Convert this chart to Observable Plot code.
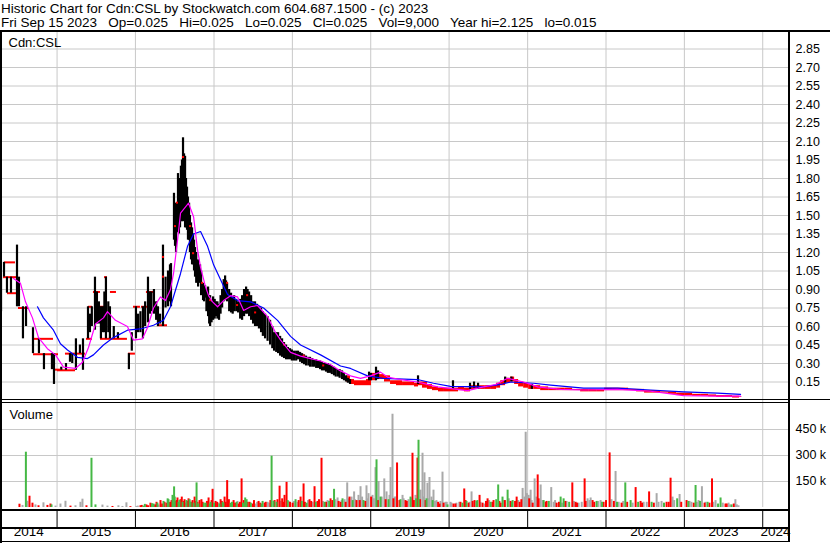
<!DOCTYPE html>
<html><head><meta charset="utf-8">
<script src="https://cdn.jsdelivr.net/npm/d3@7"></script>
<script src="https://cdn.jsdelivr.net/npm/@observablehq/plot@0.6"></script>
<style>
body{margin:0;background:#fff;}
#wrap{position:relative;width:830px;height:543px;overflow:hidden;background:#fff;font-family:Arial,"Liberation Sans",sans-serif;color:#000;}
.hd{position:absolute;left:1px;font-size:13.5px;line-height:15px;white-space:pre;}
.ln{position:absolute;background:#000;}
svg{position:absolute;left:0;}
</style></head><body><div id="wrap">
<div class="hd" style="top:0.5px">Historic Chart for Cdn:CSL by Stockwatch.com 604.687.1500 - (c) 2023</div>
<div class="hd" style="top:14.5px">Fri Sep 15 2023   Op=0.025   Hi=0.025   Lo=0.025   Cl=0.025   Vol=9,000   Year hi=2.125   lo=0.015</div>
</div>
<script>
// ---------- data (dates as decimal years) ----------
const years = [2014,2015,2016,2017,2018,2019,2020,2021,2022,2023,2024];
const priceTicks = [0.15,0.30,0.45,0.60,0.75,0.90,1.05,1.20,1.35,1.50,1.65,1.80,1.95,2.10,2.25,2.40,2.55,2.70,2.85];
const volTicks = [150000,300000,450000];

// hi-lo bars [date, low, high]
const priceBars = [
[2014.291,0.72,1.00],[2014.329,1.00,1.12],[2014.367,0.87,1.00],[2014.418,0.87,1.00],[2014.495,0.76,1.26],
[2014.520,0.76,1.00],[2014.571,0.50,0.76],[2014.610,0.60,0.76],[2014.699,0.38,0.59],[2014.775,0.38,0.50],
[2014.839,0.25,0.38],[2014.941,0.25,0.38],[2014.967,0.13,0.38],
[2015.060,0.245,0.27],[2015.120,0.245,0.30],[2015.171,0.31,0.38],[2015.200,0.30,0.38],[2015.247,0.245,0.50],
[2015.298,0.38,0.45],[2015.337,0.245,0.50],[2015.401,0.50,0.76],[2015.426,0.55,0.70],[2015.450,0.60,0.76],
[2015.490,0.57,1.00],[2015.515,0.62,0.88],[2015.540,0.62,0.80],[2015.566,0.50,0.76],[2015.592,0.55,0.76],
[2015.610,0.55,0.88],[2015.630,0.50,1.00],[2015.660,0.55,0.80],[2015.681,0.50,0.76],[2015.730,0.50,0.60],
[2015.783,0.50,0.55],[2015.923,0.25,0.38],[2015.960,0.40,0.55],
[2016.013,0.50,0.76],[2016.040,0.55,0.70],[2016.070,0.55,0.72],[2016.102,0.50,0.76],[2016.130,0.60,0.80],
[2016.166,0.63,1.00],[2016.191,0.70,0.88],[2016.210,0.72,0.88],[2016.242,0.70,0.90],[2016.270,0.65,0.80],
[2016.293,0.60,0.76],[2016.320,0.62,0.70],[2016.357,0.60,1.26],[2016.390,0.75,1.00],[2016.421,0.76,1.05],
[2016.446,0.80,1.10],[2016.459,0.76,1.11],[2016.497,1.30,1.68],[2016.510,1.25,1.55],[2016.523,1.20,1.60],
[2016.548,1.36,1.84],[2016.560,1.35,1.70],[2016.574,1.40,1.80],[2016.585,1.45,1.90],[2016.599,1.45,1.95],
[2016.612,1.45,2.13],[2016.625,1.50,2.00],[2016.638,1.40,1.98],[2016.650,1.40,1.80],[2016.663,1.38,1.73],
[2016.675,1.30,1.65],[2016.689,1.30,1.60],[2016.700,1.20,1.50],[2016.714,1.14,1.44],[2016.727,1.10,1.40],
[2016.740,1.10,1.35],[2016.752,1.05,1.30],[2016.765,1.00,1.24],[2016.780,0.95,1.20],[2016.804,0.92,1.14],
[2016.829,0.95,1.10],[2016.842,0.85,1.05],[2016.867,0.81,0.95],[2016.880,0.80,0.92],[2016.893,0.83,0.93],
[2016.910,0.72,0.90],[2016.931,0.68,0.92],[2016.945,0.62,0.85],[2016.957,0.60,0.85],[2016.975,0.63,0.80],
[2016.995,0.65,0.84],[2017.015,0.66,0.82],[2017.033,0.68,0.80],[2017.050,0.66,0.80],[2017.071,0.65,0.78],
[2017.090,0.70,0.85],[2017.110,0.75,0.90],[2017.130,0.80,0.98],[2017.148,0.81,1.01],[2017.160,0.82,0.97],
[2017.173,0.80,0.95],[2017.200,0.72,0.90],[2017.224,0.71,0.87],[2017.245,0.70,0.84],[2017.263,0.72,0.85],
[2017.290,0.72,0.82],[2017.314,0.71,0.80],[2017.340,0.66,0.82],[2017.365,0.65,0.85],[2017.390,0.68,0.90],
[2017.416,0.70,0.92],[2017.435,0.70,0.90],[2017.454,0.68,0.88],[2017.480,0.65,0.85],[2017.505,0.62,0.80],
[2017.530,0.60,0.80],[2017.556,0.60,0.78],[2017.580,0.58,0.76],[2017.607,0.55,0.75],[2017.630,0.52,0.72],
[2017.658,0.50,0.70],[2017.690,0.48,0.68],[2017.722,0.45,0.65],[2017.750,0.42,0.60],[2017.773,0.40,0.55],
[2017.800,0.39,0.55],[2017.824,0.38,0.55],[2017.850,0.36,0.52],[2017.875,0.35,0.50],[2017.900,0.34,0.47],
[2017.926,0.33,0.45],[2017.950,0.33,0.43],[2017.977,0.33,0.42],[2018.000,0.32,0.41],[2018.028,0.32,0.40],
[2018.055,0.32,0.40],[2018.079,0.33,0.40],[2018.105,0.31,0.39],[2018.130,0.30,0.38],[2018.155,0.29,0.37],
[2018.181,0.28,0.36],[2018.210,0.28,0.35],[2018.232,0.27,0.35],[2018.260,0.27,0.34],[2018.283,0.27,0.33],
[2018.310,0.26,0.33],[2018.334,0.26,0.32],[2018.360,0.25,0.32],[2018.385,0.24,0.31],[2018.410,0.24,0.30],
[2018.436,0.23,0.30],[2018.460,0.22,0.30],[2018.487,0.22,0.29],[2018.510,0.21,0.28],[2018.538,0.20,0.27],
[2018.560,0.19,0.26],[2018.589,0.19,0.25],[2018.610,0.18,0.25],[2018.640,0.17,0.24],[2018.665,0.16,0.22],
[2018.691,0.15,0.20],[2018.715,0.14,0.18],[2018.742,0.13,0.17],
[2018.985,0.16,0.23],[2019.010,0.16,0.22],[2019.074,0.16,0.27],[2019.100,0.17,0.24],[2019.610,0.13,0.20],
[2020.056,0.09,0.16],[2020.273,0.09,0.14],[2020.324,0.10,0.15],[2020.375,0.09,0.14],[2020.720,0.14,0.19],
[2020.800,0.15,0.19],[2021.060,0.09,0.13]
];
// low-activity stretch, mostly unchanged days (red) [date, low, high]
const flatBars = [
[2018.691,0.15,0.20],[2018.742,0.13,0.17],[2018.793,0.12,0.16],[2018.844,0.12,0.16],[2018.895,0.12,0.16],
[2018.946,0.12,0.17],[2019.010,0.16,0.22],[2019.074,0.17,0.21],[2019.125,0.17,0.21],[2019.176,0.15,0.20],
[2019.253,0.13,0.16],[2019.329,0.12,0.16],[2019.406,0.12,0.15],[2019.482,0.12,0.15],[2019.559,0.11,0.14],
[2019.610,0.12,0.15],[2019.661,0.10,0.15],[2019.724,0.09,0.13],[2019.788,0.08,0.11],[2019.865,0.07,0.10],
[2019.941,0.07,0.10],[2020.018,0.07,0.10],[2020.120,0.08,0.11],[2020.196,0.07,0.10],[2020.273,0.09,0.12],
[2020.375,0.09,0.12],[2020.452,0.09,0.12],[2020.528,0.09,0.12],[2020.605,0.10,0.14],[2020.656,0.12,0.16],
[2020.719,0.14,0.18],[2020.783,0.15,0.19],[2020.834,0.13,0.17],[2020.885,0.11,0.15],[2020.949,0.10,0.14],
[2021.013,0.09,0.13],[2021.077,0.09,0.12],[2021.166,0.08,0.11],[2021.268,0.08,0.10],[2021.370,0.08,0.10],
[2021.472,0.08,0.10],[2021.574,0.08,0.09],[2021.676,0.07,0.09],[2021.778,0.07,0.09],[2021.880,0.07,0.09],
[2021.982,0.08,0.10],[2022.084,0.08,0.10],[2022.186,0.08,0.10],[2022.288,0.08,0.09],[2022.390,0.07,0.09],
[2022.492,0.06,0.08],[2022.594,0.06,0.08],[2022.696,0.06,0.07],[2022.798,0.05,0.07],[2022.901,0.04,0.06],
[2023.003,0.04,0.06],[2023.105,0.035,0.05],[2023.207,0.035,0.05],[2023.309,0.03,0.045],[2023.411,0.025,0.04],
[2023.513,0.025,0.04],[2023.615,0.02,0.035],[2023.704,0.025,0.03]
];
// unchanged-price runs [from, to, price]
const flatRuns = [
[2014.316,2014.495,1.00],[2014.329,2014.469,1.12],[2014.367,2014.533,0.87],[2014.508,2014.635,0.75],
[2014.686,2014.954,0.50],[2014.699,2015.018,0.375],[2014.980,2015.043,0.25],
[2015.005,2015.235,0.245],[2015.107,2015.362,0.38],[2015.375,2015.452,0.50],[2015.401,2015.452,0.76],
[2015.464,2015.554,0.88],[2015.515,2015.605,0.76],[2015.554,2015.898,0.50],[2015.605,2015.643,1.00],
[2015.681,2015.758,0.88],[2015.911,2016.000,0.38],[2015.975,2016.064,0.76],[2016.077,2016.153,0.76],
[2016.140,2016.230,0.88],[2016.281,2016.408,0.61]
];
// red close ticks inside the busy stretch [date, price]
const redTicks = [
[2016.357,1.16],[2016.357,1.00],[2016.510,1.41],[2016.535,1.60],[2016.612,1.97],[2016.702,1.41],
[2016.740,1.19],[2016.855,0.95],[2016.957,0.81],[2017.173,0.95],[2017.301,0.77],[2017.429,0.85],
[2017.531,0.71],[2017.900,0.45],[2018.150,0.36],[2018.400,0.28]
];
// moving averages [date, value]
const maFast = [
[2014.444,0.99],[2014.533,0.95],[2014.597,0.80],[2014.686,0.67],[2014.763,0.51],[2014.877,0.42],[2014.980,0.37],
[2015.082,0.27],[2015.235,0.26],[2015.324,0.31],[2015.401,0.43],[2015.490,0.62],[2015.592,0.67],[2015.643,0.72],
[2015.745,0.65],[2015.898,0.60],[2015.975,0.49],[2016.089,0.50],[2016.153,0.59],[2016.230,0.75],[2016.319,0.84],
[2016.383,0.81],[2016.446,0.90],[2016.485,1.03],[2016.536,1.30],[2016.574,1.52],[2016.638,1.57],[2016.676,1.60],
[2016.740,1.49],[2016.791,1.22],[2016.829,1.08],[2016.893,0.92],[2016.931,0.85],[2016.982,0.80],[2017.046,0.76],
[2017.122,0.81],[2017.212,0.85],[2017.301,0.84],[2017.378,0.73],[2017.467,0.76],[2017.556,0.77],[2017.684,0.68],
[2017.786,0.55],[2017.850,0.49],[2017.977,0.39],[2018.105,0.36],[2018.232,0.34],[2018.360,0.32],[2018.487,0.29],
[2018.615,0.24],[2018.742,0.20],[2018.870,0.18],[2018.997,0.20],[2019.125,0.23],[2019.214,0.19],[2019.380,0.17],
[2019.597,0.15],[2019.852,0.11],[2020.235,0.08],[2020.439,0.11],[2020.592,0.13],[2020.745,0.18],[2020.949,0.15],
[2021.128,0.11],[2021.421,0.09],[2021.714,0.085],[2022.148,0.09],[2022.569,0.075],[2022.990,0.04],[2023.424,0.035],
[2023.717,0.035]
];
const maSlow = [
[2014.750,0.76],[2014.826,0.67],[2014.954,0.57],[2015.043,0.46],[2015.133,0.41],[2015.260,0.35],[2015.388,0.34],
[2015.464,0.37],[2015.592,0.45],[2015.719,0.51],[2015.898,0.57],[2016.064,0.58],[2016.230,0.61],[2016.357,0.65],
[2016.446,0.76],[2016.574,1.03],[2016.663,1.25],[2016.740,1.35],[2016.829,1.37],[2016.918,1.25],[2016.995,1.10],
[2017.084,0.98],[2017.173,0.86],[2017.301,0.81],[2017.467,0.80],[2017.633,0.75],[2017.811,0.65],[2017.977,0.52],
[2018.105,0.45],[2018.360,0.37],[2018.615,0.28],[2018.742,0.26],[2018.959,0.20],[2019.163,0.18],[2019.597,0.17],
[2019.801,0.14],[2020.018,0.115],[2020.439,0.11],[2020.656,0.13],[2020.783,0.15],[2021.077,0.14],[2021.293,0.125],
[2021.714,0.10],[2022.148,0.10],[2022.569,0.085],[2022.990,0.07],[2023.424,0.06],[2023.717,0.05]
];
// volume [date, thousands of shares, u=up d=down n=unchanged]
const volBars = [
[2014.602,319,"u"],[2015.439,284,"u"],[2016.492,119,"u"],[2016.753,60,"d"],[2016.778,142,"u"],[2016.982,105,"d"],
[2017.168,155,"d"],[2017.352,165,"d"],[2017.398,55,"u"],[2017.735,296,"u"],[2017.837,123,"d"],[2017.870,50,"d"],
[2017.926,145,"d"],[2018.041,45,"u"],[2018.143,136,"d"],[2018.283,120,"d"],[2018.372,284,"d"],[2018.532,105,"u"],
[2018.700,142,"n"],[2018.729,60,"d"],[2018.788,90,"n"],[2018.870,120,"n"],[2018.946,125,"n"],[2019.005,60,"d"],
[2019.061,230,"n"],[2019.074,275,"u"],[2019.100,150,"n"],[2019.173,165,"n"],[2019.253,230,"n"],[2019.278,538,"n"],
[2019.336,257,"d"],[2019.406,70,"n"],[2019.444,40,"d"],[2019.533,313,"d"],[2019.597,285,"d"],[2019.610,388,"u"],
[2019.661,313,"n"],[2019.686,200,"n"],[2019.724,140,"n"],[2019.750,173,"n"],[2019.801,100,"n"],[2019.916,204,"n"],
[2020.018,30,"n"],[2020.193,107,"d"],[2020.286,90,"n"],[2020.388,70,"d"],[2020.490,50,"d"],[2020.625,130,"u"],
[2020.745,100,"u"],[2020.860,60,"d"],[2020.936,110,"n"],[2020.975,434,"n"],[2021.038,100,"n"],[2021.089,165,"n"],
[2021.128,188,"d"],[2021.166,130,"n"],[2021.301,115,"n"],[2021.421,60,"u"],[2021.570,142,"d"],[2021.727,165,"d"],
[2021.765,50,"n"],[2021.804,55,"n"],[2022.046,315,"d"],[2022.122,208,"n"],[2022.246,142,"u"],[2022.378,115,"d"],
[2022.550,90,"d"],[2022.646,80,"n"],[2022.824,169,"d"],[2022.908,50,"u"],[2022.939,75,"n"],[2023.143,127,"u"],
[2023.224,120,"n"],[2023.353,165,"d"],[2023.462,55,"u"],[2023.651,45,"n"],
[2014.520,19,"d"],[2014.559,12,"n"],[2014.622,36,"n"],[2014.648,65,"d"],[2014.686,25,"d"],[2014.724,15,"n"],
[2014.763,10,"d"],[2014.826,27,"n"],[2014.877,12,"d"],[2014.916,20,"d"],[2014.929,15,"u"],[2014.980,8,"n"],
[2015.043,20,"n"],[2015.107,36,"n"],[2015.171,8,"d"],[2015.235,10,"n"],[2015.298,30,"n"],[2015.324,48,"n"],
[2015.375,10,"d"],[2015.490,15,"u"],[2015.579,14,"n"],[2015.643,8,"n"],[2015.707,6,"d"],[2015.783,10,"n"],
[2015.834,6,"n"],[2015.885,27,"n"],[2015.936,5,"d"],[2016.013,6,"n"],[2016.064,10,"d"],[2016.102,8,"u"],
[2016.140,15,"d"],[2016.191,25,"d"],[2016.230,20,"u"],[2016.268,30,"d"],[2016.293,15,"n"],[2016.319,40,"d"],
[2016.357,35,"u"],[2016.395,25,"d"],[2016.421,45,"u"],[2016.446,30,"d"],[2016.472,70,"u"],[2016.523,40,"d"],
[2016.548,30,"u"],[2016.574,45,"d"],[2016.612,35,"d"],[2016.650,40,"u"],[2016.676,50,"d"],[2016.702,30,"u"],
[2016.727,40,"d"],[2016.816,40,"d"],[2016.855,30,"d"],[2016.893,25,"u"],[2016.931,55,"d"],[2016.957,30,"u"],
[2017.020,35,"d"],[2017.059,25,"n"],[2017.084,45,"d"],[2017.110,30,"u"],[2017.135,60,"d"],[2017.212,25,"u"],
[2017.250,40,"d"],[2017.288,30,"u"],[2017.314,20,"d"],[2017.416,45,"u"],[2017.454,30,"d"],[2017.492,20,"d"],
[2017.531,20,"n"],[2017.569,35,"d"],[2017.607,20,"u"],[2017.645,25,"d"],[2017.684,30,"n"],[2017.773,40,"d"],
[2017.798,30,"u"],[2017.900,70,"d"],[2017.952,35,"n"],[2018.003,25,"d"],[2018.066,30,"n"],[2018.105,60,"d"],
[2018.181,25,"u"],[2018.219,45,"d"],[2018.258,30,"n"],[2018.321,35,"d"],[2018.411,30,"u"],[2018.449,40,"n"],
[2018.487,50,"d"],[2018.577,55,"n"],[2018.615,30,"d"],[2018.640,50,"u"],[2018.666,45,"n"],[2018.755,60,"n"],
[2018.819,40,"d"],[2018.844,70,"n"],[2018.908,40,"u"],[2018.972,80,"n"],[2019.023,70,"n"],[2019.125,60,"u"],
[2019.202,90,"n"],[2019.227,45,"u"],[2019.304,60,"n"],[2019.367,40,"d"],[2019.482,45,"n"],[2019.508,60,"u"],
[2019.571,70,"n"],[2019.635,100,"n"],[2019.712,50,"u"],[2019.775,60,"n"],[2019.839,40,"n"],[2019.878,20,"d"],
[2019.954,30,"n"],[2019.980,15,"u"],[2020.056,20,"d"],[2020.094,25,"n"],[2020.145,30,"d"],[2020.222,35,"u"],
[2020.247,25,"d"],[2020.324,40,"d"],[2020.349,35,"u"],[2020.426,25,"d"],[2020.452,20,"n"],[2020.528,30,"u"],
[2020.566,40,"d"],[2020.656,25,"d"],[2020.694,40,"n"],[2020.783,35,"d"],[2020.809,40,"u"],[2020.898,30,"d"],
[2021.013,70,"n"],[2021.064,25,"d"],[2021.204,40,"u"],[2021.242,35,"d"],[2021.332,30,"n"],[2021.370,25,"d"],
[2021.459,50,"u"],[2021.497,35,"n"],[2021.612,30,"d"],[2021.650,25,"n"],[2021.829,40,"d"],[2021.880,35,"u"],
[2021.931,40,"n"],[2021.969,30,"d"],[2022.161,30,"n"],[2022.199,25,"d"],[2022.314,40,"u"],[2022.441,35,"d"],
[2022.480,30,"n"],[2022.582,30,"u"],[2022.709,35,"n"],[2022.773,30,"d"],[2022.849,60,"n"],[2023.028,40,"d"],
[2023.066,35,"n"],[2023.181,40,"n"],[2023.258,25,"d"],[2023.296,30,"u"],[2023.398,40,"n"],[2023.525,20,"d"],
[2023.564,25,"n"],[2023.602,15,"u"],[2023.691,10,"n"],
[2016.030,8,"n"],[2016.080,12,"d"],[2016.120,18,"u"],[2016.160,10,"d"],[2016.210,22,"u"],[2016.250,15,"d"],
[2016.280,25,"u"],[2016.340,20,"d"],[2016.370,30,"d"],[2016.410,50,"u"],[2016.430,28,"d"],[2016.460,40,"d"],
[2016.500,60,"u"],[2016.510,35,"d"],[2016.535,55,"d"],[2016.560,40,"u"],[2016.590,60,"d"],[2016.600,30,"u"],
[2016.625,45,"d"],[2016.640,25,"n"],[2016.660,35,"d"],[2016.690,45,"u"],[2016.710,30,"d"],[2016.740,25,"u"],
[2016.765,35,"d"],[2016.790,30,"d"],[2016.800,20,"u"],[2016.840,45,"d"],[2016.870,25,"u"],[2016.910,35,"d"],
[2016.945,20,"u"],[2016.970,40,"d"],[2017.000,25,"u"],[2017.040,30,"d"],[2017.070,20,"u"],[2017.100,35,"d"],
[2017.120,25,"u"],[2017.150,30,"d"],[2017.190,45,"d"],[2017.230,30,"u"],[2017.270,25,"d"],[2017.300,35,"n"],
[2017.330,30,"d"],[2017.370,25,"u"],[2017.380,40,"d"],[2017.430,30,"d"],[2017.470,25,"u"],[2017.510,40,"d"],
[2017.550,30,"n"],[2017.590,25,"d"],[2017.620,35,"u"],[2017.660,30,"d"],[2017.700,25,"n"],[2017.720,40,"d"],
[2017.760,35,"u"],[2017.810,45,"d"],[2017.850,35,"n"],[2017.890,30,"d"],[2017.940,40,"u"],[2017.970,30,"d"],
[2018.020,35,"n"],[2018.080,40,"d"],[2018.120,35,"u"],[2018.160,30,"d"],[2018.200,40,"n"],[2018.240,35,"d"],
[2018.300,30,"u"],[2018.340,45,"d"],[2018.390,35,"n"],[2018.430,30,"d"],[2018.470,35,"u"],[2018.510,40,"d"],
[2018.550,45,"n"],[2018.590,35,"d"],[2018.630,40,"n"],[2018.680,30,"d"],[2018.720,50,"n"],[2018.770,40,"u"],
[2018.800,45,"n"],[2018.860,40,"d"],[2018.890,60,"n"],[2018.930,35,"d"],[2018.960,50,"n"],
[2019.040,50,"n"],[2019.090,40,"d"],[2019.140,60,"n"],[2019.190,45,"d"],[2019.240,70,"n"],[2019.290,50,"d"],
[2019.320,60,"n"],[2019.380,45,"u"],[2019.420,50,"n"],[2019.460,35,"d"],[2019.520,55,"n"],[2019.550,40,"d"],
[2019.580,50,"u"],[2019.630,45,"d"],[2019.670,60,"n"],[2019.700,40,"d"],[2019.740,50,"n"],[2019.790,40,"u"],
[2019.820,35,"n"],[2019.860,30,"d"],[2019.890,35,"n"],[2019.930,25,"d"],[2019.970,30,"n"],
[2020.030,25,"n"],[2020.080,20,"d"],[2020.130,30,"n"],[2020.170,25,"u"],[2020.210,40,"d"],[2020.260,30,"n"],
[2020.300,35,"d"],[2020.360,40,"u"],[2020.400,30,"n"],[2020.470,35,"d"],[2020.510,40,"n"],[2020.550,30,"d"],
[2020.600,45,"u"],[2020.640,35,"d"],[2020.680,60,"u"],[2020.710,40,"d"],[2020.760,50,"n"],[2020.800,30,"u"],
[2020.840,35,"d"],[2020.880,40,"n"],[2020.920,45,"d"],[2020.960,60,"n"],[2020.990,80,"n"],[2021.020,50,"d"],
[2021.050,40,"n"],[2021.110,60,"n"],[2021.140,50,"d"],[2021.190,40,"n"],[2021.230,30,"d"],[2021.270,35,"u"],
[2021.350,40,"n"],[2021.400,30,"d"],[2021.440,25,"n"],[2021.480,35,"d"],[2021.530,30,"u"],[2021.590,35,"n"],
[2021.630,25,"d"],[2021.690,30,"n"],[2021.740,35,"d"],[2021.790,40,"n"],[2021.850,30,"d"],[2021.900,35,"n"],
[2021.950,30,"u"],[2022.000,40,"d"],[2022.070,45,"n"],[2022.100,35,"d"],[2022.140,30,"u"],[2022.220,35,"n"],
[2022.270,30,"d"],[2022.340,25,"n"],[2022.410,30,"u"],[2022.460,25,"d"],[2022.520,30,"n"],[2022.610,25,"d"],
[2022.670,30,"n"],[2022.740,25,"u"],[2022.800,30,"d"],[2022.870,40,"n"],[2022.960,30,"d"],[2023.050,35,"u"],
[2023.090,30,"n"],[2023.120,25,"d"],[2023.160,30,"n"],[2023.200,35,"u"],[2023.270,30,"n"],[2023.320,25,"d"],
[2023.370,30,"n"],[2023.430,20,"u"],[2023.490,25,"n"],[2023.540,20,"d"],[2023.580,15,"n"],[2023.630,20,"d"],
[2023.670,15,"n"]
];
const tickerLabel = "Cdn:CSL";
const volumeLabel = "Volume";

// ---------- helpers ----------
const T = y => { const Y = Math.floor(y); const a = Date.UTC(Y,0,1), b = Date.UTC(Y+1,0,1); return new Date(a + (y - Y) * (b - a)); };
const X0 = 2014.278, X1 = 2024.328;
const xs = {type: "utc", domain: [T(X0), T(X1)], axis: null};
const yearDates = years.filter(y => y > X0).map(y => T(y));
const font = {fontFamily: "Arial, 'Liberation Sans', sans-serif", fontSize: "12.5px", background: "transparent", overflow: "visible", color: "#000"};
const GRID = "#c8c8c8";
const COL = {u: "#45b845", d: "#ff0000", n: "#a9a9a9"};
const wrap = document.getElementById("wrap");

// ---------- price panel ----------
const flatNext = flatBars.map((d, i) => [d[0], i < flatBars.length - 1 ? flatBars[i + 1][0] : d[0] + 0.03, d[1], d[2]]);
const price = Plot.plot({
  width: 830, height: 370, marginLeft: 0, marginRight: 42, marginTop: 0, marginBottom: 0,
  x: xs, y: {domain: [0, 3], axis: null}, style: font,
  marks: [
    Plot.gridX(yearDates, {stroke: GRID, strokeOpacity: 1}),
    Plot.gridY(priceTicks, {stroke: GRID, strokeOpacity: 1}),
    Plot.axisY(priceTicks, {anchor: "right", tickSize: 0, tickPadding: 7, tickFormat: d3.format(".2f"), label: null}),
    Plot.rect(flatNext, {x1: d => T(d[0]), x2: d => T(d[1]), y1: d => d[2], y2: d => d[3], fill: "#ff0000"}),
    Plot.ruleY(flatRuns, {x1: d => T(d[0]), x2: d => T(d[1]), y: d => d[2], stroke: "#ff0000", strokeWidth: 2}),
    Plot.rect(priceBars, {x1: d => T(d[0] - 0.014), x2: d => T(d[0] + 0.014), y1: d => d[1], y2: d => d[2], fill: "#000"}),
    Plot.rect(redTicks, {x1: d => T(d[0] - 0.013), x2: d => T(d[0] + 0.013), y1: d => d[1] - 0.008, y2: d => d[1] + 0.008, fill: "#ff0000"}),
    Plot.line(maSlow, {x: d => T(d[0]), y: d => d[1], stroke: "#0000ff", strokeWidth: 1.2}),
    Plot.line(maFast, {x: d => T(d[0]), y: d => d[1], stroke: "#ff00ff", strokeWidth: 1.2}),
    Plot.text([tickerLabel], {frameAnchor: "top-left", dx: 8, dy: 7, lineAnchor: "top", textAnchor: "start", fontSize: 13})
  ]
});
price.style.top = "30px";
wrap.appendChild(price);

// ---------- volume panel ----------
const volMarks = ["n", "d", "u"].map(c => Plot.ruleX(volBars.filter(d => d[2] === c), {x: d => T(d[0]), y1: 0, y2: d => d[1] * 1000, stroke: COL[c], strokeWidth: 2}));
const vol = Plot.plot({
  width: 830, height: 110, marginLeft: 0, marginRight: 42, marginTop: 0, marginBottom: 3,
  x: xs, y: {domain: [0, 617300], axis: null}, style: font,
  marks: [
    Plot.gridX(yearDates, {stroke: GRID, strokeOpacity: 1}),
    Plot.gridY(volTicks, {stroke: GRID, strokeOpacity: 1}),
    Plot.axisY(volTicks, {anchor: "right", tickSize: 0, tickPadding: 7, tickFormat: d => d / 1000 + " k", label: null}),
    ...volMarks,
    Plot.text([volumeLabel], {frameAnchor: "top-left", dx: 9, dy: 9, lineAnchor: "top", textAnchor: "start", fontSize: 13})
  ]
});
vol.style.top = "400px";
wrap.appendChild(vol);

// ---------- date strip ----------
const yearLabels = years.map(y => ({y, c: (Math.max(y, X0) + Math.min(y + 1, X1)) / 2}));
const strip = Plot.plot({
  width: 830, height: 34, marginLeft: 0, marginRight: 42, marginTop: 2, marginBottom: 16,
  x: xs, style: {...font, fontSize: "13px"},
  marks: [
    Plot.ruleX(yearDates, {stroke: "#000", strokeWidth: 1}),
    Plot.text(yearLabels, {x: d => T(d.c), text: d => String(d.y), frameAnchor: "bottom", dy: 8.5, fontSize: 13.5, fill: "#000"})
  ]
});
strip.style.top = "509px";
wrap.appendChild(strip);

// ---------- frame lines ----------
[[0, 29.5, 830, 2], [0, 29.5, 2, 513.5], [787.5, 29.5, 2, 512], [0, 399, 830, 1], [0, 401.5, 788, 1],
 [0, 509, 789, 2], [0, 526.5, 789, 2], [0, 540.5, 789, 1.5]].forEach(([l, t, w, h]) => {
  const e = document.createElement("div"); e.className = "ln";
  Object.assign(e.style, {left: l + "px", top: t + "px", width: w + "px", height: h + "px"});
  wrap.appendChild(e);
});
</script></body></html>
